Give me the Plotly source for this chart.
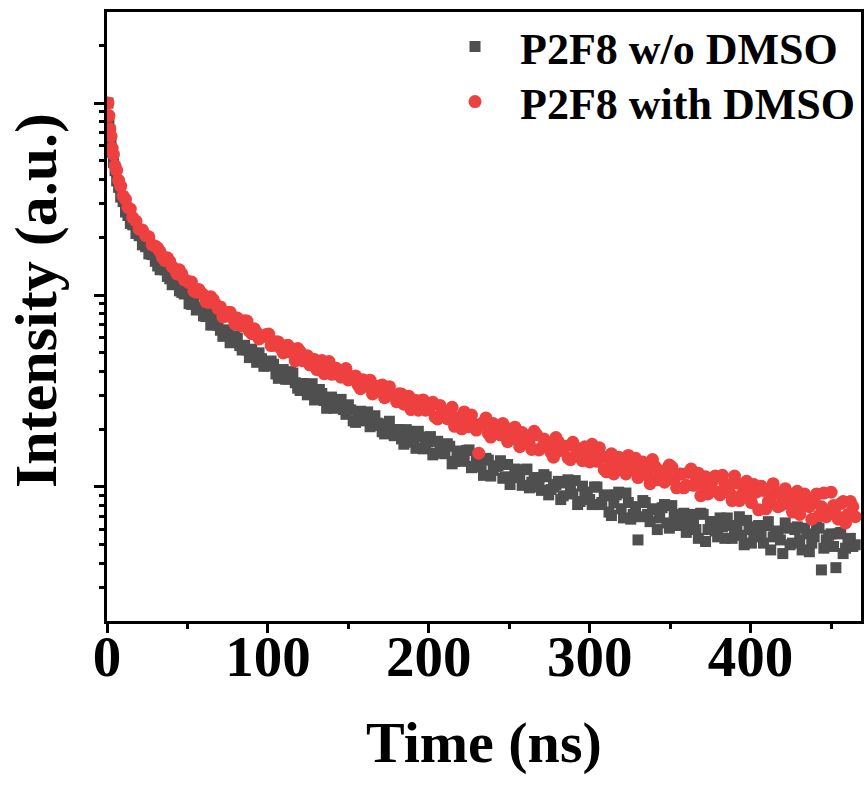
import plotly.graph_objects as go

# Time axis (ns) of the TRPL decay channels
time_ns = [0.6, 1.2, 1.8, 2.5, 3.2, 4.0, 5.0, 6.0, 7.2, 8.5, 10, 11.5, 13, 14.5, 16, 18, 20, 22, 24, 26, 28, 30,
           33, 36, 39, 42, 45, 48, 51, 54, 57, 60, 63, 66, 69, 72, 75, 78, 81, 84, 87, 90, 93, 96, 99,
           102, 105, 108, 111, 114, 117, 120, 123, 126, 129, 132, 135, 138, 141, 144, 147, 150, 153, 156, 159,
           162, 165, 168, 171, 174, 177, 180, 183, 186, 189, 192, 195, 198, 201, 204, 207, 210, 213, 216, 219,
           222, 225, 228, 231, 234, 237, 240, 243, 246, 249, 252, 255, 258, 261, 264, 267, 270, 273, 276, 279,
           282, 285, 288, 291, 294, 297, 300, 303, 306, 309, 312, 315, 318, 321, 324, 327, 330, 333, 336, 339,
           342, 345, 348, 351, 354, 357, 360, 363, 366, 369, 372, 375, 378, 381, 384, 387, 390, 393, 396, 399,
           402, 405, 408, 411, 414, 417, 420, 423, 426, 429, 432, 435, 438, 441, 444, 447, 450, 453, 456, 459,
           462, 465]

# P2F8 w/o DMSO (counts)
counts_without = [10000, 8270, 7230, 6140, 5550, 4905, 4440, 3930, 3635, 3235, 3065, 2705, 2595, 2360, 2320,
                  2092, 2036, 1825, 1784, 1637, 1624, 1498,
                  1354, 1351, 1214, 1202, 1051, 1012, 902, 924, 858, 778, 806, 700, 695, 609, 646, 577, 595, 517,
                  518, 522, 446, 466, 432,
                  453, 388, 401, 364, 399, 349, 318, 344, 320, 284, 322, 282, 290, 257, 279, 253, 268, 221, 241, 222,
                  246, 210, 215, 194, 213, 193, 199, 178, 199, 180, 159, 182, 166, 183, 150, 162, 149, 163, 136, 151,
                  140, 156, 128, 134, 115, 138, 122, 129, 111, 131, 112, 118, 102, 124, 106, 112, 96, 113, 97, 103,
                  86, 105, 95, 108, 84, 94, 86, 100, 81, 90, 74, 83, 94, 69, 83, 72, 53, 85, 72, 76,
                  60, 78, 65, 80, 66, 68, 58, 72, 60, 73, 52, 66, 59, 69, 54, 63, 58, 70, 50, 60,
                  55, 63, 51, 66, 55, 58, 45, 61, 51, 62, 47, 57, 51, 62, 37, 53, 57, 38, 58, 48,
                  54, 50]

# P2F8 with DMSO (counts)
counts_with = [10000, 8600, 7340, 6710, 5830, 5400, 4710, 4460, 3960, 3690, 3280, 3150, 2855, 2805, 2530,
               2425, 2200, 2180, 2040, 2010, 1825, 1795,
               1679, 1508, 1496, 1366, 1354, 1200, 1158, 1050, 1069, 1001, 914, 945, 851, 768, 810, 759, 758, 689,
               732, 629, 637, 609, 622,
               545, 570, 528, 542, 504, 453, 507, 475, 433, 461, 434, 389, 450, 388, 390, 406, 361, 374, 340, 362,
               334, 305, 335, 340, 299, 303, 278, 305, 281, 253, 282, 281, 251, 263, 231, 266, 237, 246, 207, 230,
               246, 206, 213, 150, 217, 190, 214, 191, 214, 172, 191, 175, 192, 176, 157, 187, 160, 172, 151, 181,
               155, 163, 139, 161, 144, 162, 135, 151, 160, 123, 138, 117, 143, 125, 146, 125, 112, 135, 115, 139,
               109, 121, 113, 127, 99, 117, 102, 124, 106, 90, 113, 99, 114, 91, 104, 93, 114, 85, 97, 90,
               103, 76, 96, 84, 104, 79, 88, 93, 74, 95, 80, 86, 68, 92, 79, 70, 94, 72, 82, 65,
               84, 70]

# Interleaved channels (half-step offset)
time_ns_mid = [31.5, 34.5, 37.5, 40.5, 43.5, 46.5, 49.5, 52.5, 55.5, 58.5,
               61.5, 64.5, 67.5, 70.5, 73.5, 76.5, 79.5, 82.5, 85.5, 88.5,
               91.5, 94.5, 97.5, 100.5, 103.5, 106.5, 109.5, 112.5, 115.5, 118.5,
               121.5, 124.5, 127.5, 130.5, 133.5, 136.5, 139.5, 142.5, 145.5, 148.5,
               151.5, 154.5, 157.5, 160.5, 163.5, 166.5, 169.5, 172.5, 175.5, 178.5,
               181.5, 184.5, 187.5, 190.5, 193.5, 196.5, 199.5, 202.5, 205.5, 208.5,
               211.5, 214.5, 217.5, 220.5, 223.5, 226.5, 229.5, 232.5, 235.5, 238.5,
               241.5, 244.5, 247.5, 250.5, 253.5, 256.5, 259.5, 262.5, 265.5, 268.5,
               271.5, 274.5, 277.5, 280.5, 283.5, 286.5, 289.5, 292.5, 295.5, 298.5,
               301.5, 304.5, 307.5, 310.5, 313.5, 316.5, 319.5, 322.5, 325.5, 328.5,
               331.5, 334.5, 337.5, 340.5, 343.5, 346.5, 349.5, 352.5, 355.5, 358.5,
               361.5, 364.5, 367.5, 370.5, 373.5, 376.5, 379.5, 382.5, 385.5, 388.5,
               391.5, 394.5, 397.5, 400.5, 403.5, 406.5, 409.5, 412.5, 415.5, 418.5,
               421.5, 424.5, 427.5, 430.5, 433.5, 436.5, 439.5, 442.5, 445.5, 448.5,
               451.5, 454.5, 457.5, 460.5, 463.5]

counts_without_mid = [1416, 1415, 1249, 1131, 1143, 1031, 1022, 893, 835, 864,
                      772, 697, 752, 655, 658, 564, 613, 545, 547, 472,
                      491, 500, 425, 427, 436, 368, 409, 365, 392, 327,
                      346, 302, 345, 295, 307, 257, 294, 260, 286, 239,
                      252, 217, 248, 221, 206, 235, 210, 189, 220, 185,
                      199, 167, 195, 171, 195, 158, 172, 147, 173, 152,
                      168, 132, 154, 136, 155, 126, 143, 127, 141, 114,
                      128, 137, 113, 103, 124, 112, 123, 99, 111, 100,
                      116, 91, 100, 107, 90, 109, 92, 81, 101, 92,
                      81, 100, 83, 91, 71, 91, 77, 93, 68, 79,
                      70, 83, 66, 77, 69, 81, 61, 72, 63, 73,
                      64, 67, 54, 72, 60, 66, 55, 62, 69, 54,
                      63, 56, 67, 51, 62, 56, 63, 47, 59, 53,
                      65, 50, 60, 53, 61, 46, 55, 61, 48, 56,
                      49, 57, 45, 53, 49]

counts_with_mid = [1755, 1572, 1563, 1403, 1288, 1290, 1188, 1170, 1036, 1025,
                   923, 978, 894, 867, 775, 814, 707, 730, 735, 648,
                   668, 590, 607, 626, 547, 569, 499, 547, 502, 527,
                   455, 483, 445, 409, 456, 420, 387, 415, 373, 414,
                   367, 379, 325, 355, 360, 313, 324, 292, 333, 297,
                   306, 270, 297, 267, 251, 284, 256, 276, 226, 251,
                   227, 260, 222, 201, 232, 237, 198, 213, 229, 182,
                   206, 187, 204, 186, 205, 162, 186, 167, 195, 156,
                   178, 163, 143, 172, 159, 142, 171, 149, 137, 154,
                   167, 136, 145, 120, 149, 130, 140, 117, 132, 141,
                   116, 124, 104, 128, 117, 106, 130, 109, 117, 99,
                   119, 102, 118, 102, 92, 108, 94, 115, 98, 85,
                   105, 91, 107, 83, 94, 101, 77, 88, 94, 80,
                   98, 81, 89, 72, 92, 79, 86, 71, 93, 74,
                   80, 68, 84, 72, 79]

series_names = ["P2F8 w/o DMSO", "P2F8 with DMSO"]
x_ticks = [0, 100, 200, 300, 400]
x_title = "Time (ns)"
y_title = "Intensity (a.u.)"

FONT = "Times New Roman, Liberation Serif, serif"

fig = go.Figure()
fig.add_trace(go.Scatter(
    x=time_ns + time_ns_mid, y=counts_without + counts_without_mid, mode="markers", name=series_names[0],
    marker=dict(symbol="square", size=11, color="#4f4f4f", line=dict(width=0)),
    legend="legend",
))
fig.add_trace(go.Scatter(
    x=time_ns + time_ns_mid, y=counts_with + counts_with_mid, mode="markers", name=series_names[1],
    marker=dict(symbol="circle", size=13, color="#ef4040", line=dict(width=0)),
    legend="legend2",
))

legend_common = dict(
    xanchor="left", yanchor="middle",
    bgcolor="rgba(0,0,0,0)", borderwidth=0,
    font=dict(family=FONT, size=44, color="black", weight="bold"),
    itemwidth=80,
)

fig.update_layout(
    width=864, height=787,
    margin=dict(l=107, r=3, t=12, b=166),
    paper_bgcolor="white", plot_bgcolor="white",
    font=dict(family=FONT, color="black"),
    showlegend=True,
    legend=dict(x=0.4284, y=0.9425, **legend_common),
    legend2=dict(x=0.4284, y=0.8522, **legend_common),
    annotations=[
        dict(text=x_title, xref="paper", yref="paper", x=0.5, y=-0.2,
             xanchor="center", yanchor="middle", showarrow=False,
             font=dict(family=FONT, size=58, color="black", weight="bold")),
        dict(text=y_title, xref="paper", yref="paper", x=-0.0942, y=0.527,
             xanchor="center", yanchor="middle", showarrow=False, textangle=-90,
             font=dict(family=FONT, size=60, color="black", weight="bold")),
    ],
)

fig.update_xaxes(
    range=[0, 468.6], automargin=False,
    tickmode="array", tickvals=x_ticks,
    ticks="outside", ticklen=9, tickwidth=3, tickcolor="black",
    minor=dict(dtick=50, tick0=0, ticks="outside", ticklen=5, tickwidth=3, tickcolor="black"),
    showline=True, linewidth=3, linecolor="black", mirror=True,
    showgrid=False, zeroline=False,
    tickfont=dict(family=FONT, size=57, color="black", weight="bold"),
    ticklabelstandoff=-25,
)

fig.update_yaxes(
    type="log", range=[1.302, 4.474], automargin=False,
    dtick=1,
    ticks="outside", ticklen=10, tickwidth=3, tickcolor="black",
    minor=dict(dtick="D1", ticks="outside", ticklen=5, tickwidth=3, tickcolor="black"),
    showticklabels=False,
    showline=True, linewidth=3, linecolor="black", mirror=True,
    showgrid=False, zeroline=False,
)

fig.write_html(
    "out.html",
    config={"displayModeBar": False},
    post_script="document.body.style.margin='0';document.body.style.overflow='hidden';",
)
